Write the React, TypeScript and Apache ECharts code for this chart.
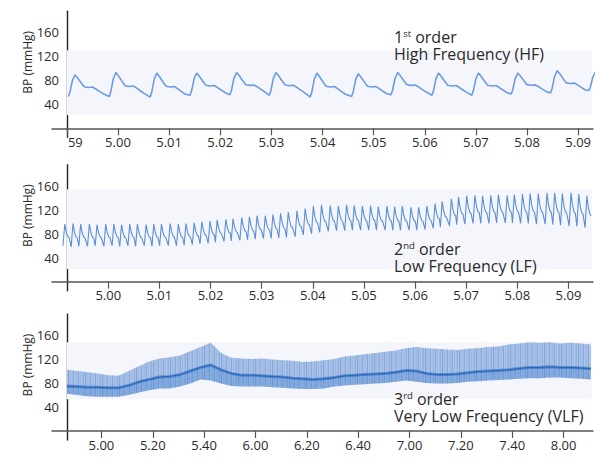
import React, { useEffect, useRef } from "react";
import * as echarts from "echarts";

// ---------------- shared ----------------
const Y_LABELS = [40, 80, 120, 160];
const Y_NAME = "BP (mmHg)";

// ---------------- Panel 1: 1st order, High Frequency ----------------
const P1_TICKS = [0, 1, 2, 3, 4, 5, 6, 7, 8, 9, 10];
const P1_LABELS = ["59", "5.00", "5.01", "5.02", "5.03", "5.04", "5.05", "5.06", "5.07", "5.08", "5.09"];
// beat onsets (s after 4.59), systolic peaks, diastolic troughs
const P1_ONSET = [0.03, 0.83, 1.63, 2.41, 3.19, 3.96, 4.76, 5.57, 6.34, 7.14, 7.92, 8.69, 9.46, 10.21];
const P1_PEAK = [89, 93, 92, 92, 93, 93, 92, 91, 93, 92, 92, 92, 96, 94];
const P1_TROUGH = [53, 53, 52, 55, 56, 55, 52, 53, 56, 55, 55, 57, 59, 63];
// one beat's shape (time after onset, fraction of pulse height)
const P1_SHAPE_T = [0, 0.03, 0.08, 0.13, 0.18, 0.25, 0.31, 0.39, 0.47, 0.53, 0.6, 0.68];
const P1_SHAPE_F = [0, 0.2, 0.75, 1, 0.86, 0.63, 0.45, 0.42, 0.44, 0.36, 0.25, 0.13];

// ---------------- Panel 2: 2nd order, Low Frequency ----------------
const P2_TICKS = [0.81, 1.81, 2.81, 3.81, 4.81, 5.81, 6.81, 7.81, 8.81, 9.81];
const P2_LABELS = ["5.00", "5.01", "5.02", "5.03", "5.04", "5.05", "5.06", "5.07", "5.08", "5.09"];
const P2_PEAK_T = [-0.04, 0.12, 0.27, 0.44, 0.59, 0.76, 0.92, 1.07, 1.23, 1.38, 1.55, 1.7, 1.85, 2.02, 2.18, 2.33, 2.49,
  2.64, 2.8, 2.94, 3.11, 3.25, 3.42, 3.57, 3.72, 3.88, 4.03, 4.18, 4.33, 4.5, 4.66, 4.82, 4.98, 5.15, 5.31, 5.47, 5.62,
  5.78, 5.94, 6.09, 6.26, 6.41, 6.56, 6.73, 6.88, 7.04, 7.2, 7.34, 7.52, 7.66, 7.82, 7.98, 8.13, 8.29, 8.44, 8.61,
  8.75, 8.91, 9.06, 9.22, 9.39, 9.54, 9.69, 9.86, 10.01, 10.17];
const P2_PEAK = [96, 97, 96, 96, 95, 96, 96, 95, 96, 96, 95, 96, 96, 97, 96, 97, 98, 100, 101, 103, 104, 105, 107, 108,
  110, 110, 112, 114, 116, 118, 122, 126, 128, 127, 126, 128, 127, 126, 127, 125, 126, 125, 126, 124, 124, 126, 130,
  134, 138, 141, 143, 144, 143, 144, 145, 144, 145, 146, 147, 147, 148, 148, 147, 148, 146, 143];
const P2_TROUGH = [60, 58, 59, 59, 60, 59, 60, 59, 60, 59, 60, 59, 60, 60, 60, 61, 62, 63, 64, 66, 67, 68, 69, 70, 71,
  72, 72, 73, 74, 75, 78, 80, 82, 84, 85, 85, 86, 86, 86, 86, 86, 86, 86, 86, 86, 87, 89, 91, 93, 95, 96, 97, 97, 97,
  98, 98, 98, 97, 97, 96, 96, 95, 94, 93, 92, 90];
const P2_SHAPE_T = [-0.035, 0, 0.03, 0.06, 0.085];
const P2_SHAPE_F = [0, 1, 0.62, 0.42, 0.38];

// ---------------- Panel 3: 3rd order, Very Low Frequency ----------------
const P3_TICKS = [0.67, 1.67, 2.67, 3.67, 4.67, 5.67, 6.67, 7.67, 8.67, 9.67];
const P3_LABELS = ["5.00", "5.20", "5.40", "6.00", "6.20", "6.40", "7.00", "7.20", "7.40", "8.00"];
const P3_T = [0, 0.2, 0.4, 0.6, 0.8, 1, 1.2, 1.4, 1.6, 1.8, 2, 2.2, 2.4, 2.6, 2.8, 3, 3.2, 3.4, 3.6, 3.8, 4, 4.2, 4.4,
  4.6, 4.8, 5, 5.2, 5.4, 5.6, 5.8, 6, 6.2, 6.4, 6.6, 6.8, 7, 7.2, 7.4, 7.6, 7.8, 8, 8.2, 8.4, 8.6, 8.8, 9, 9.2, 9.4,
  9.6, 9.8, 10, 10.2];
const P3_UPPER = [102, 100, 98, 96, 93, 92, 100, 108, 116, 121, 123, 126, 133, 140, 147, 130, 122, 121, 120, 121, 119,
  118, 117, 115, 116, 118, 120, 124, 126, 128, 130, 132, 134, 138, 140, 138, 137, 136, 135, 137, 138, 140, 141, 144,
  146, 148, 147, 148, 146, 147, 146, 144];
const P3_LOWER = [62, 60, 58, 57, 57, 57, 60, 64, 68, 71, 71, 74, 79, 86, 84, 79, 75, 74, 74, 74, 73, 72, 71, 70, 70,
  71, 74, 76, 77, 78, 79, 80, 82, 84, 82, 80, 79, 79, 80, 82, 83, 84, 85, 86, 87, 88, 88, 89, 89, 88, 87, 86];
const P3_MEAN = [75, 74, 73, 73, 72, 72, 76, 82, 86, 90, 91, 94, 100, 106, 110, 102, 96, 93, 93, 92, 91, 90, 88, 87,
  86, 87, 89, 92, 93, 94, 95, 96, 98, 101, 100, 96, 94, 94, 95, 97, 99, 100, 101, 102, 104, 106, 106, 107, 106, 106,
  105, 104];

// faint plot-background bands [low, high] in mmHg, and their right end on each x axis
const BAND_Y = [[22, 130], [21, 154], [53, 148]];
const BAND_X_END = [10.27, 10.27, 10.22];

// annotations: order number, superscript, second line, [x, top]
const NOTE_NUM = ["1", "2", "3"];
const NOTE_SUP = ["st", "nd", "rd"];
const NOTE_NAME = ["High Frequency (HF)", "Low Frequency (LF)", "Very Low Frequency (VLF)"];
const NOTE_POS = [[394, 28.5], [394, 240], [394, 390]];

const FONT = "'Open Sans', sans-serif";
const TXT = "#2a2a2a";

// vertical-streak texture for the dense beat band
const STREAKS =
  "data:image/svg+xml;charset=utf-8," +
  encodeURIComponent(
    "<svg xmlns='http://www.w3.org/2000/svg' width='17' height='4'>" +
      "<rect x='0' y='0' width='1.2' height='4' fill='rgb(45,105,195)' fill-opacity='0.32'/>" +
      "<rect x='2.4' y='0' width='0.8' height='4' fill='rgb(45,105,195)' fill-opacity='0.15'/>" +
      "<rect x='4.6' y='0' width='1.4' height='4' fill='rgb(45,105,195)' fill-opacity='0.26'/>" +
      "<rect x='7.6' y='0' width='0.9' height='4' fill='rgb(45,105,195)' fill-opacity='0.18'/>" +
      "<rect x='9.8' y='0' width='1.1' height='4' fill='rgb(45,105,195)' fill-opacity='0.3'/>" +
      "<rect x='12.3' y='0' width='0.7' height='4' fill='rgb(45,105,195)' fill-opacity='0.14'/>" +
      "<rect x='14.6' y='0' width='1.3' height='4' fill='rgb(45,105,195)' fill-opacity='0.24'/>" +
      "</svg>"
  );

function buildBeats(t0s: number[], peaks: number[], troughs: number[], shT: number[], shF: number[]) {
  const out: number[][] = [];
  t0s.forEach((t0, i) => {
    shT.forEach((dt, j) => {
      out.push([t0 + dt, troughs[i] + shF[j] * (peaks[i] - troughs[i])]);
    });
  });
  return out;
}

function nearestLabel(ticks: number[], labels: string[], v: number) {
  let best = 0;
  ticks.forEach((t, i) => {
    if (Math.abs(t - v) < Math.abs(ticks[best] - v)) best = i;
  });
  return labels[best];
}

export default function App() {
  const ref = useRef<HTMLDivElement>(null);
  useEffect(() => {
    if (!ref.current) return;
    const chart = echarts.init(ref.current, undefined, { renderer: "svg" });

    const grids = [11.3, 164.7, 314].map((top) => ({
      left: 52, top, width: 541, height: 126, containLabel: false, outerBoundsMode: "none",
    }));
    const xRanges = [
      [-0.29, 10.29],
      [-0.29, 10.29],
      [-0.292, 10.243],
    ];
    const tickSets = [P1_TICKS, P2_TICKS, P3_TICKS];
    const labelSets = [P1_LABELS, P2_LABELS, P3_LABELS];

    const xAxis = [0, 1, 2].map((i) => ({
      type: "value",
      gridIndex: i,
      min: xRanges[i][0],
      max: xRanges[i][1],
      axisLine: { show: true, onZero: true, lineStyle: { color: "#555", width: 1.5 } },
      axisTick: { show: true, customValues: tickSets[i], length: 7, lineStyle: { color: "#555", width: 1.2 } },
      splitLine: { show: false },
      axisLabel: {
        customValues: tickSets[i],
        fontSize: 13,
        fontFamily: FONT,
        color: TXT,
        margin: -2,
        formatter: (v: number) => {
          const s = nearestLabel(tickSets[i], labelSets[i], v);
          return i === 0 && Math.abs(v) < 0.01 ? "{c|" + s + "}" : s;
        },
        rich: { c: { padding: [0, 0, 0, 17], fontSize: 13, fontFamily: FONT, color: TXT } },
      },
    }));

    const yAxis = [0, 1, 2].map((i) => ({
      type: "value",
      gridIndex: i,
      min: -15,
      max: 195,
      axisLine: { show: true, onZero: true, lineStyle: { color: "#222", width: 1.4 } },
      axisTick: { show: false },
      splitLine: { show: false },
      axisLabel: { customValues: Y_LABELS, fontSize: 13, fontFamily: FONT, color: TXT, margin: -7 },
      name: Y_NAME,
      nameLocation: "middle",
      nameGap: 18.5,
      nameMoveOverlap: false,
      nameTextStyle: { fontSize: 12, fontFamily: FONT, color: TXT, padding: [0, 0, 0, 24] },
    }));

    const band = (i: number) => ({
      silent: true,
      itemStyle: { color: "#f5f6fb" },
      data: [[{ coord: [0, BAND_Y[i][1]] }, { coord: [BAND_X_END[i], BAND_Y[i][0]] }]],
    });

    const p1 = buildBeats(P1_ONSET, P1_PEAK, P1_TROUGH, P1_SHAPE_T, P1_SHAPE_F);
    const p2 = buildBeats(P2_PEAK_T, P2_PEAK, P2_TROUGH, P2_SHAPE_T, P2_SHAPE_F);
    const p3Mean = P3_T.map((t, k) => [t, P3_MEAN[k]]);

    const poly = (api: any, top: number[], bottom: number[]) => {
      const pts: number[][] = [];
      P3_T.forEach((t, k) => pts.push(api.coord([t, top[k]])));
      for (let k = P3_T.length - 1; k >= 0; k--) pts.push(api.coord([P3_T[k], bottom[k]]));
      return pts;
    };

    const series: any[] = [
      {
        type: "line", xAxisIndex: 0, yAxisIndex: 0, data: p1, symbol: "none", z: 3,
        lineStyle: { color: "#6b9be0", width: 1.6 }, markArea: band(0),
      },
      {
        type: "line", xAxisIndex: 1, yAxisIndex: 1, data: p2, symbol: "none", z: 3,
        lineStyle: { color: "#5a8fd8", width: 1.1 }, markArea: band(1),
      },
      {
        type: "custom", xAxisIndex: 2, yAxisIndex: 2, data: [[0, 100]], z: 3, silent: true, clip: true,
        renderItem: (_p: any, api: any) => {
          const upperPts = poly(api, P3_UPPER, P3_MEAN);
          const lowerPts = poly(api, P3_MEAN, P3_LOWER);
          const allPts = poly(api, P3_UPPER, P3_LOWER);
          return {
            type: "group",
            children: [
              { type: "polygon", shape: { points: upperPts }, style: { fill: "rgba(90,140,210,0.48)" } },
              { type: "polygon", shape: { points: lowerPts }, style: { fill: "rgba(70,128,205,0.62)" } },
              {
                type: "polygon", shape: { points: allPts },
                style: { fill: { image: STREAKS, repeat: "repeat", imageWidth: 17, imageHeight: 4 } },
              },
            ],
          };
        },
      },
      {
        type: "line", xAxisIndex: 2, yAxisIndex: 2, data: p3Mean, symbol: "none", z: 4,
        lineStyle: { color: "rgba(30,95,185,0.5)", width: 3 }, markArea: band(2),
      },
      {
        type: "line", xAxisIndex: 2, yAxisIndex: 2, data: p3Mean, symbol: "none", z: 5,
        lineStyle: { color: "#2466bb", width: 1 },
      },
    ];

    const graphic = [0, 1, 2].map((i) => ({
      type: "text", x: NOTE_POS[i][0], y: NOTE_POS[i][1], z: 100, silent: true,
      style: {
        text: "{b|" + NOTE_NUM[i] + "}{s|" + NOTE_SUP[i] + "}{b| order}\n{b|" + NOTE_NAME[i] + "}",
        align: "left",
        verticalAlign: "top",
        rich: {
          b: { fontSize: 16, lineHeight: 17, fontFamily: FONT, fill: TXT, color: TXT },
          s: { fontSize: 9.5, lineHeight: 10, fontFamily: FONT, fill: TXT, color: TXT, verticalAlign: "top" },
        },
      },
    }));

    chart.setOption({
      animation: false,
      backgroundColor: "#ffffff",
      grid: grids,
      xAxis,
      yAxis,
      series,
      graphic,
    });
    return () => chart.dispose();
  }, []);
  return <div ref={ref} style={{ position: "fixed", left: 0, top: 0, width: 600, height: 462 }} />;
}
